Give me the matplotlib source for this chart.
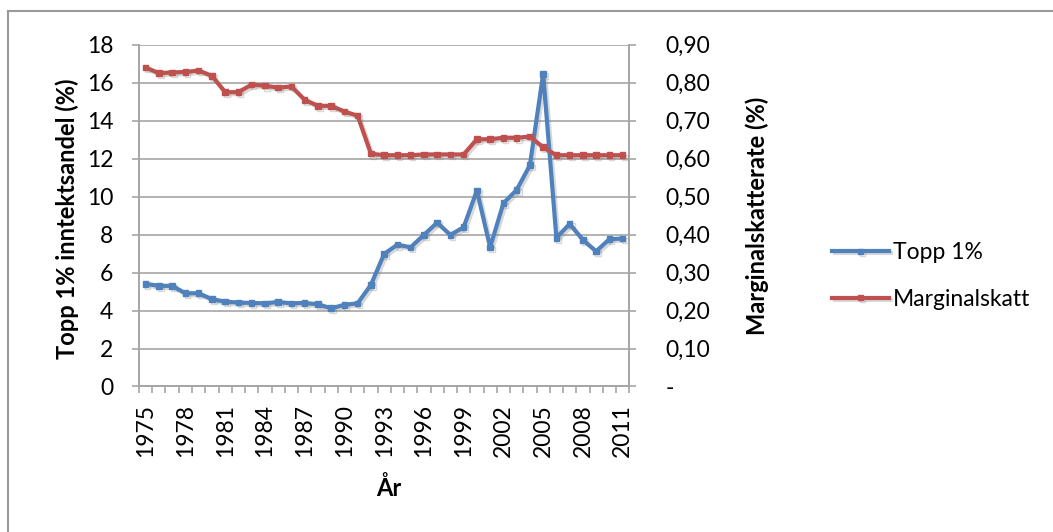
import matplotlib
matplotlib.use('Agg')
import matplotlib.pyplot as plt
import matplotlib.patheffects as pe
from matplotlib.lines import Line2D
import numpy as np

plt.rcParams['font.family'] = ['Lato', 'DejaVu Sans']

years = list(range(1975, 2012))

# top 1% income share (%)
topp1 = [5.41, 5.30, 5.30, 4.91, 4.91, 4.60, 4.47, 4.42, 4.40, 4.38,
         4.45, 4.38, 4.40, 4.33, 4.12, 4.30, 4.38, 5.35, 6.98, 7.47,
         7.33, 7.98, 8.63, 7.98, 8.39, 10.32, 7.33, 9.65, 10.35, 11.65,
         16.46, 7.83, 8.56, 7.72, 7.12, 7.76, 7.79]

# marginal tax rate
marginalskatt = [0.840, 0.825, 0.827, 0.828, 0.832, 0.818, 0.775, 0.775, 0.795, 0.792,
                 0.787, 0.790, 0.755, 0.739, 0.739, 0.724, 0.713, 0.613, 0.609, 0.609,
                 0.609, 0.611, 0.611, 0.611, 0.611, 0.651, 0.651, 0.655, 0.655, 0.658,
                 0.630, 0.609, 0.609, 0.609, 0.609, 0.609, 0.609]

left_ticks = [0, 2, 4, 6, 8, 10, 12, 14, 16, 18]
right_ticks = [0, 0.1, 0.2, 0.3, 0.4, 0.5, 0.6, 0.7, 0.8, 0.9]
right_labels = ['-', '0,10', '0,20', '0,30', '0,40', '0,50', '0,60', '0,70', '0,80', '0,90']

blue = '#4f81bd'
red = '#c0504d'
gray = '#a6a6a6'
fs = 16.5
fs_title = 17

fig = plt.figure(figsize=(10.53, 5.32), dpi=100)
ax = fig.add_axes([0.1320, 0.2735, 0.4656, 0.6425])
ax2 = ax.twinx()

x = np.arange(len(years))
shadow = [pe.SimpleLineShadow(offset=(1.5, -1.5), shadow_color='gray', alpha=0.3), pe.Normal()]

l1, = ax.plot(x, topp1, color=blue, lw=3, marker='s', ms=4, label='Topp 1%',
              path_effects=shadow, zorder=3)
l2, = ax2.plot(x, marginalskatt, color=red, lw=3, marker='s', ms=4, label='Marginalskatt',
               path_effects=shadow, zorder=3)

ax.set_xlim(-0.5, len(years) - 0.5)
ax.set_ylim(0, 18)
ax2.set_ylim(0, 0.9)

ax.set_yticks(left_ticks)
ax.set_yticklabels([str(v) for v in left_ticks])
ax2.set_yticks(right_ticks)
ax2.set_yticklabels(right_labels)

ax.set_xticks(x[::3])
ax.set_xticklabels([str(y) for y in years[::3]], rotation=90)
ax.set_xticks(np.arange(-0.5, len(years)), minor=True)

ax.grid(axis='y', color=gray, lw=1.2)
ax.set_axisbelow(True)

for a in (ax, ax2):
    for s in a.spines.values():
        s.set_color(gray)
        s.set_linewidth(1.2)
    a.spines['top'].set_visible(False)

ax.tick_params(axis='y', length=5, width=1.2, color=gray, pad=13.5, labelsize=fs)
ax2.tick_params(axis='y', length=5, width=1.2, color=gray, pad=21, labelsize=fs)
ax.tick_params(axis='x', which='major', length=0, pad=12.5, labelsize=fs)
ax.tick_params(axis='x', which='minor', length=5, width=1.2, color=gray)

fig.text(67 / 1053, 1 - 219 / 532, 'Topp 1% inntektsandel (%)', rotation=90,
         ha='center', va='center', fontsize=fs_title, fontweight='bold')
fig.text(757 / 1053, 1 - 216 / 532, 'Marginalskatterate (%)', rotation=90,
         ha='center', va='center', fontsize=fs_title, fontweight='bold')
fig.text(389 / 1053, 1 - 488 / 532, 'År', ha='center', va='center',
         fontsize=fs_title, fontweight='bold')

fig.legend(handles=[l1, l2], loc='center left', bbox_to_anchor=(821 / 1053, 1 - 276 / 532),
           frameon=False, fontsize=fs, handlelength=2.45, handletextpad=0.2,
           labelspacing=1.1, borderpad=0)

# chart frame
fig.add_artist(Line2D([8 / 1053, 8 / 1053], [0, 1 - 11 / 532], color='#999999', lw=1.5))
fig.add_artist(Line2D([8 / 1053, 1], [1 - 11 / 532, 1 - 11 / 532], color='#999999', lw=1.5))

fig.savefig('out.png', dpi=100)
